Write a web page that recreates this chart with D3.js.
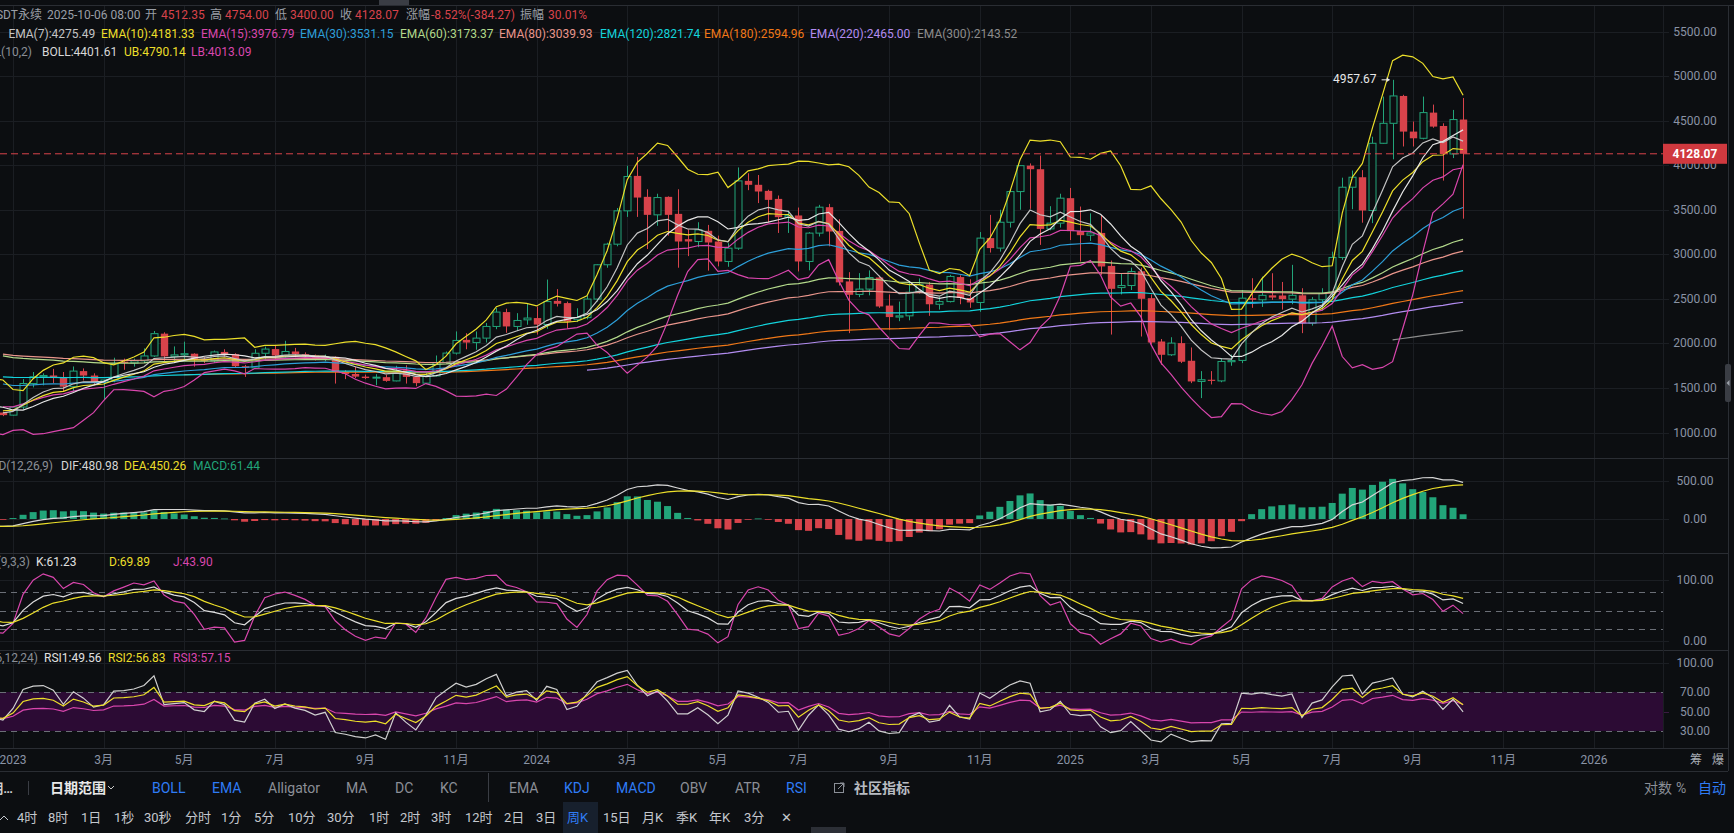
<!DOCTYPE html>
<html><head><meta charset="utf-8">
<script src="https://cdn.jsdelivr.net/npm/d3@7"></script>
<style>
html,body{margin:0;padding:0;background:#0c0e11;overflow:hidden}
svg{display:block;font-family:Roboto,"Noto Sans CJK SC",sans-serif}
</style></head><body>
<svg id="c" width="1734" height="833"></svg>
<script>
// ---------------- DATA (weekly bars, first bar = week of 2022-09-26) ----------------
const firstWeek = "2022-09-26";
const opens = [1295,1310,1295,1305,1365,1590,1570,1220,1140,1195,1280,1265,1167,1225,
1196,1287,1551,1627,1641,1612,1515,1690,1640,1565,1590,1796,1781,1805,1860,2110,1855,1872,1885,1820,1805,1905,1880,1745,1725,1890,1937,1865,1910,1880,1865,1835,1850,1680,1658,1628,1612,1622,1580,1700,1625,1555,1636,1787,1892,2041,2010,2060,2191,2352,2191,2265,
2285,2212,2478,2453,2266,2290,2498,2883,3114,3488,3880,3645,3443,3645,3454,3170,3144,3264,3144,2920,3069,3824,3780,3712,3622,3417,3436,2920,3238,3529,3263,2696,2550,2610,2740,2425,2296,2310,2580,2660,2440,2470,2745,2510,2460,3182,3070,3360,3704,3995,3955,3285,3350,
3630,3260,3215,3240,2870,2627,2650,2810,2508,2022,1873,2004,1806,1574,1593,1580,1795,1810,2508,2490,2540,2538,2497,2540,2228,2490,2570,2965,3753,3865,3492,4246,4470,4777,4377,4302,4590,4440,4126,4512.35];
const highs = [1390,1380,1340,1370,1665,1680,1600,1290,1220,1300,1300,1350,1230,1235,
1290,1600,1680,1665,1715,1680,1742,1720,1665,1580,1840,1830,1830,1945,2140,2125,1967,2020,1890,1850,1920,1935,1890,1760,1935,1965,1975,2030,1950,1900,1875,1875,1855,1700,1742,1650,1655,1650,1750,1755,1635,1670,1865,1910,2135,2115,2135,2230,2400,2390,2340,2445,
2415,2717,2610,2470,2395,2535,2890,3130,3520,3994,4093,3730,3680,3650,3730,3280,3360,3330,3210,3125,3975,3910,3890,3725,3660,3490,3525,3250,3555,3566,3394,2800,2789,2820,2760,2550,2470,2700,2730,2690,2520,2770,2765,2720,3250,3443,3500,3730,4000,4020,4108,3540,3680,
3745,3536,3460,3440,2930,2790,2850,2850,2550,2050,2070,2080,1955,1690,1690,1836,1875,2600,2732,2750,2788,2690,2882,2620,2520,2620,3030,3860,3940,3945,4320,4770,4957.67,4790,4490,4770,4680,4470,4620,4754];
const lows = [1265,1270,1190,1255,1335,1505,1075,1125,1075,1160,1220,1155,1150,1185,
1190,1260,1507,1530,1555,1460,1461,1585,1540,1370,1565,1705,1740,1780,1850,1805,1790,1810,1740,1780,1780,1850,1730,1625,1720,1820,1825,1845,1845,1825,1810,1800,1550,1600,1610,1600,1531,1570,1575,1550,1520,1545,1630,1780,1875,1935,1930,2010,2160,2120,2140,2210,
2100,2165,2415,2170,2240,2270,2470,2850,3090,3420,3420,3060,3320,3210,2850,2980,3080,2817,2865,2860,3050,3720,3575,3360,3240,3240,2808,2820,3200,3090,2650,2116,2520,2540,2400,2154,2250,2260,2560,2310,2380,2460,2440,2400,2355,3020,3030,3300,3500,3510,3106,3270,3300,
3160,2920,3150,2770,2100,2550,2600,2078,1990,1760,1860,1780,1555,1387,1540,1565,1750,1780,2400,2410,2490,2380,2440,2116,2200,2370,2508,2938,3506,3355,3350,4240,4066,4210,4210,4290,4420,3827,4080,3400];
const closes = [1310,1295,1305,1365,1590,1570,1220,1140,1195,1280,1265,1167,1219,1196,
1287,1551,1627,1641,1612,1515,1690,1640,1565,1590,1772,1781,1805,1860,2110,1855,1872,1885,1820,1805,1905,1880,1745,1725,1890,1937,1865,1910,1880,1865,1835,1850,1680,1658,1628,1612,1622,1580,1690,1625,1555,1636,1787,1892,2034,2010,2060,2191,2352,2191,2258,2285,
2212,2470,2445,2247,2290,2498,2883,3114,3488,3873,3637,3443,3637,3443,3144,3144,3275,3133,2920,3069,3824,3780,3705,3611,3417,3436,2920,3238,3529,3256,2685,2546,2610,2740,2415,2296,2310,2575,2660,2440,2470,2752,2510,2460,3182,3070,3360,3704,3995,3955,3285,3350,3630,
3260,3215,3240,2864,2613,2650,2807,2501,2011,1873,2004,1795,1574,1593,1580,1798,1808,2508,2490,2540,2515,2497,2540,2228,2490,2560,2965,3753,3865,3492,4246,4470,4777,4377,4302,4590,4433,4126,4512,4128.07];

// EMA settings: period, seed value read at the first drawn bar, first drawn bar (week)
const emaPeriods = [7,10,15,30,60,80,120,180,220,300];
const emaSeeds   = [1222,1245,1290,1545,1860,1880,1625,1650,1700,2040];
const emaStarts  = ["2022-12-26","2022-12-26","2022-12-26","2022-12-26","2022-12-26","2022-12-26","2022-12-26","2023-05-01","2024-02-05","2025-08-18"];
const emaColors  = ["#c4c4c4","#ecdf2a","#d946ad","#2d9fd9","#b3d98b","#e9968c","#13d3dc","#f07818","#b28cf0","#8c8c8c"];
const emaLegend  = ["4275.49","4181.33","3976.79","3531.15","3173.37","3039.93","2821.74","2594.96","2465.00","2143.52"];
// MACD / RSI seeds (state at first bar)
const macdSeeds = [1480,1550,-220];
const rsiPeriods = [6,12,24];
const rsiSeedUp = [30,35,40];
const rsiSeedAbs = [70,80,95];

// axis ticks
const priceTicks = [1000,1500,2000,2500,3000,3500,4000,4500,5000,5500];
const timeTickDates = ["2023-01-02","2023-03-06","2023-05-01","2023-07-03","2023-09-04","2023-11-06","2024-01-01","2024-03-04","2024-05-06","2024-07-01","2024-09-02","2024-11-04","2025-01-06","2025-03-03","2025-05-05","2025-07-07","2025-09-01","2025-11-03","2026-01-05"];
const timeTickLabels = ["2023","3月","5月","7月","9月","11月","2024","3月","5月","7月","9月","11月","2025","3月","5月","7月","9月","11月","2026"];

// ---------------- SETUP ----------------
const W=1734,H=833,AX=1663;
const bg="#0c0e11", gridC="#1b1e23", sepC="#2a2d33", axTxt="#8a93a5";
const upC="#22a57a", dnC="#d8434b";
const YEL="#ecdf2a", MAG="#d946ad", WHT="#dcdcdc";
const svg=d3.select("#c");
svg.append("rect").attr("width",W).attr("height",H).attr("fill",bg);

const parse=d3.utcParse("%Y-%m-%d");
const start=parse(firstWeek);
const n=closes.length;
const dates=d3.range(n).map(k=>d3.utcWeek.offset(start,k));
const idxOf=s=>Math.round((parse(s)-start)/(7*864e5));

const x=d3.scaleUtc().domain([parse("2023-01-02"),parse("2026-01-05")]).range([13,1594]);
const yP=d3.scaleLinear().domain([1000,5500]).range([432.6,31.5]);
const yM=d3.scaleLinear().domain([0,500]).range([519,481]);
const yK=d3.scaleLinear().domain([0,100]).range([641,580]);
const yR=d3.scaleLinear().domain([30,70]).range([731,692]);
const panes={P:[6,458],M:[458,553],K:[553,650],R:[650,748]};

const defs=svg.append("defs");
Object.entries(panes).forEach(([k,[t,b]])=>{
  defs.append("clipPath").attr("id","cp"+k).append("rect").attr("x",0).attr("y",t).attr("width",AX).attr("height",b-t);
});

// ---------------- INDICATORS ----------------
function ema(vals,p,k0,seed){const a=2/(p+1);const o=new Array(vals.length).fill(null);o[k0]=seed;for(let k=k0+1;k<vals.length;k++)o[k]=a*vals[k]+(1-a)*o[k-1];return o;}
const emas=emaPeriods.map((p,j)=>ema(closes,p,idxOf(emaStarts[j]),emaSeeds[j]));
const boll=closes.map((c,k)=>{if(k<9)return null;const w=closes.slice(k-9,k+1);const m=d3.mean(w);const sd=Math.sqrt(d3.mean(w,v=>(v-m)*(v-m)));return {m,u:m+2*sd,l:m-2*sd};});
const e12=ema(closes,12,0,macdSeeds[0]), e26=ema(closes,26,0,macdSeeds[1]);
const dif=closes.map((c,k)=>e12[k]-e26[k]);
const dea=ema(dif,9,0,macdSeeds[2]);
const hist=dif.map((d,k)=>2*(d-dea[k]));
const kdj=[];{let K=50,D=50;for(let k=0;k<n;k++){if(k<8){kdj.push(null);continue;}const hh=d3.max(highs.slice(k-8,k+1)),ll=d3.min(lows.slice(k-8,k+1));const rsv=(closes[k]-ll)/(hh-ll)*100;K=(2*K+rsv)/3;D=(2*D+K)/3;kdj.push({K,D,J:3*K-2*D});}}
const rsis=rsiPeriods.map((p,j)=>{let u=rsiSeedUp[j],a=rsiSeedAbs[j];const o=[null];for(let k=1;k<n;k++){const d=closes[k]-closes[k-1];u=(Math.max(d,0)+(p-1)*u)/p;a=(Math.abs(d)+(p-1)*a)/p;o.push(u/a*100);}return o;});

// ---------------- GRID ----------------
const grid=svg.append("g");
timeTickDates.forEach(s=>{const xx=Math.round(x(parse(s)))+0.5;grid.append("line").attr("x1",xx).attr("x2",xx).attr("y1",6).attr("y2",748).attr("stroke",gridC);});
priceTicks.forEach(v=>{const yy=Math.round(yP(v))+0.5;grid.append("line").attr("x1",0).attr("x2",AX+6).attr("y1",yy).attr("y2",yy).attr("stroke",gridC);});
[0,500].forEach(v=>{const yy=Math.round(yM(v))+0.5;grid.append("line").attr("x1",0).attr("x2",AX+6).attr("y1",yy).attr("y2",yy).attr("stroke",gridC);});
[0,100].forEach(v=>{const yy=Math.round(yK(v))+0.5;grid.append("line").attr("x1",0).attr("x2",AX+6).attr("y1",yy).attr("y2",yy).attr("stroke",gridC);});
// RSI band
svg.append("rect").attr("x",0).attr("width",AX).attr("y",yR(70)).attr("height",yR(30)-yR(70)).attr("fill","#2c0b34");
[100,50].forEach(v=>{const yy=Math.round(yR(v))+0.5;grid.append("line").attr("x1",0).attr("x2",AX+6).attr("y1",yy).attr("y2",yy).attr("stroke",v==50?"#3a1a42":gridC);});
// dashed levels
[80,50,20].forEach(v=>svg.append("line").attr("x1",0).attr("x2",AX).attr("y1",Math.round(yK(v))+0.5).attr("y2",Math.round(yK(v))+0.5).attr("stroke","#6b6f77").attr("stroke-dasharray","6,5"));
[70,30].forEach(v=>svg.append("line").attr("x1",0).attr("x2",AX).attr("y1",Math.round(yR(v))+0.5).attr("y2",Math.round(yR(v))+0.5).attr("stroke","#6b6f77").attr("stroke-dasharray","6,5"));
// separators
[458,553,650,748,771].forEach(yy=>svg.append("line").attr("x1",0).attr("x2",1728).attr("y1",yy+0.5).attr("y2",yy+0.5).attr("stroke",sepC));
svg.append("line").attr("x1",0).attr("x2",W).attr("y1",5.5).attr("y2",5.5).attr("stroke",sepC);
svg.append("line").attr("x1",AX+0.5).attr("x2",AX+0.5).attr("y1",6).attr("y2",748).attr("stroke",gridC);
svg.append("line").attr("x1",1728.5).attr("x2",1728.5).attr("y1",6).attr("y2",771).attr("stroke",sepC);

// ---------------- CANDLES ----------------
const gc=svg.append("g").attr("clip-path","url(#cpP)");
const vis=d3.range(12,n);
vis.forEach(k=>{
  const o=opens[k],h=highs[k],l=lows[k],c=closes[k];
  const cx=Math.round(x(dates[k]))+0.5;
  const top=yP(Math.max(o,c)),bot=yP(Math.min(o,c));
  if(c>=o){
    gc.append("line").attr("x1",cx).attr("x2",cx).attr("y1",yP(h)).attr("y2",top).attr("stroke",upC);
    gc.append("line").attr("x1",cx).attr("x2",cx).attr("y1",bot).attr("y2",yP(l)).attr("stroke",upC);
    gc.append("rect").attr("x",cx-3.5).attr("y",top).attr("width",7).attr("height",Math.max(1,bot-top)).attr("fill",bg).attr("stroke",upC);
  }else{
    gc.append("line").attr("x1",cx).attr("x2",cx).attr("y1",yP(h)).attr("y2",yP(l)).attr("stroke",dnC);
    gc.append("rect").attr("x",cx-3.7).attr("y",top).attr("width",7.4).attr("height",Math.max(1,bot-top)).attr("fill",dnC);
  }
});

function drawLine(g,arr,acc,ys,color,from){
  const idx=d3.range(from,n).filter(k=>arr[k]!=null);
  g.append("path").attr("d",d3.line().x(k=>x(dates[k])).y(k=>ys(acc(arr[k])))(idx)).attr("fill","none").attr("stroke",color).attr("stroke-width",1.2);
}
const gl=svg.append("g").attr("clip-path","url(#cpP)");
for(let j=emaPeriods.length-1;j>=0;j--) drawLine(gl,emas[j],v=>v,yP,emaColors[j],idxOf(emaStarts[j]));
drawLine(gl,boll,d=>d.u,yP,YEL,12);
drawLine(gl,boll,d=>d.l,yP,MAG,12);
drawLine(gl,boll,d=>d.m,yP,"#e6e6e6",12);

// current price line
const lastC=closes[n-1];
svg.append("line").attr("x1",0).attr("x2",AX).attr("y1",yP(lastC)).attr("y2",yP(lastC)).attr("stroke","#d8434b").attr("stroke-dasharray","7,4");
svg.append("line").attr("x1",AX).attr("x2",AX+6).attr("y1",yP(lastC)).attr("y2",yP(lastC)).attr("stroke","#fff");
// max marker
const kMax=d3.maxIndex(highs.slice(13))+13;
const mx=x(dates[kMax]), my=yP(highs[kMax]);
svg.append("text").attr("x",mx-16).attr("y",my-1).attr("text-anchor","end").attr("dominant-baseline","central").attr("fill","#e8e8e8").attr("font-size",12).text(highs[kMax].toFixed(2));
svg.append("line").attr("x1",mx-11).attr("x2",mx-3).attr("y1",my).attr("y2",my).attr("stroke","#e8e8e8");
svg.append("path").attr("d",`M${mx-3},${my} l-3,-2.5 l0,5 z`).attr("fill","#e8e8e8");

// ---------------- MACD ----------------
const gm=svg.append("g").attr("clip-path","url(#cpM)");
vis.forEach(k=>{const v=hist[k];const cx=x(dates[k]);const y0=yM(0),y1=yM(v);
  gm.append("rect").attr("x",cx-3.5).attr("width",7).attr("y",Math.min(y0,y1)).attr("height",Math.max(0.8,Math.abs(y1-y0))).attr("fill",v>=0?upC:dnC);});
drawLine(gm,dif,v=>v,yM,"#d6d6d6",12);
drawLine(gm,dea,v=>v,yM,YEL,12);

// ---------------- KDJ ----------------
const gk=svg.append("g").attr("clip-path","url(#cpK)");
drawLine(gk,kdj,d=>d.J,yK,MAG,12);
drawLine(gk,kdj,d=>d.K,yK,WHT,12);
drawLine(gk,kdj,d=>d.D,yK,YEL,12);

// ---------------- RSI ----------------
const gr=svg.append("g").attr("clip-path","url(#cpR)");
drawLine(gr,rsis[2],v=>v,yR,MAG,12);
drawLine(gr,rsis[0],v=>v,yR,"#d0d0d0",12);
drawLine(gr,rsis[1],v=>v,yR,YEL,12);

// ---------------- AXES TEXT ----------------
const T=(xx,yy,s,col,size=12,anchor="start",weight=400)=>svg.append("text").attr("x",xx).attr("y",yy).attr("fill",col).attr("font-size",size).attr("text-anchor",anchor).attr("font-weight",weight).attr("dominant-baseline","central").text(s);
priceTicks.forEach(v=>T(1695,yP(v),v.toFixed(2),axTxt,12,"middle"));
[0,500].forEach(v=>T(1695,yM(v),v.toFixed(2),axTxt,12,"middle"));
[0,100].forEach(v=>T(1695,yK(v),v.toFixed(2),axTxt,12,"middle"));
[100,70,50,30].forEach(v=>T(1695,yR(v),v.toFixed(2),axTxt,12,"middle"));
svg.append("rect").attr("x",AX).attr("y",yP(lastC)-10).attr("width",64).attr("height",20).attr("fill","#d0393f");
T(1695,yP(lastC),lastC.toFixed(2),"#ffffff",12,"middle",700);
timeTickDates.forEach((s,j)=>T(x(parse(s)),760,timeTickLabels[j],axTxt,12,"middle"));
T(1690,760,"筹","#a8adb5",12,"start");
T(1712,760,"爆","#a8adb5",12,"start");

// ---------------- LEGENDS ----------------
const red="#d8434b", gr2="#9a9ea6";
T(42,14.5,"ETHUSDT永续",gr2,12,"end");
T(47,14.5,"2025-10-06 08:00",gr2);
[["开",145,gr2],[opens[n-1].toFixed(2),161,red],["高",210,gr2],[highs[n-1].toFixed(2),225,red],["低",275,gr2],[lows[n-1].toFixed(2),290,red],["收",340,gr2],[closes[n-1].toFixed(2),355,red],["涨幅",406,gr2],["-8.52%(-384.27)",431,red],["振幅",520,gr2],["30.01%",548,red]].forEach(([s,xx,c])=>T(xx,14.5,s,c));
const emaX=[8.4,101,201,300,400,499,600,704,810,917];
emaPeriods.forEach((p,j)=>T(emaX[j],34,`EMA(${p}):${emaLegend[j]}`,emaColors[j]));
T(32,52,"BOLL(10,2)","#8a8e96",12,"end");
T(42,52,"BOLL:4401.61","#d8d8d8");
T(124,52,"UB:4790.14",YEL);
T(191,52,"LB:4013.09",MAG);
T(53,466,"MACD(12,26,9)","#8a8e96",12,"end");
T(61,466,"DIF:480.98","#d6d6d6");
T(124,466,"DEA:450.26",YEL);
T(193,466,"MACD:61.44",upC);
T(30,562,"KDJ(9,3,3)","#8a8e96",12,"end");
T(36,562,"K:61.23","#e0e0e0");
T(109,562,"D:69.89",YEL);
T(173,562,"J:43.90",MAG);
T(38,658,"RSI(6,12,24)","#8a8e96",12,"end");
T(44,658,"RSI1:49.56","#e0e0e0");
T(108,658,"RSI2:56.83",YEL);
T(173,658,"RSI3:57.15",MAG);

// ---------------- TOOLBAR ----------------
const blue="#2f7cf6", tg="#8b8f97";
svg.append("rect").attr("x",379).attr("y",0).attr("width",30).attr("height",5).attr("fill","#3a3d44");
T(13,788,"周期…","#d0d0d0",13,"end",700);
svg.append("line").attr("x1",28.5).attr("x2",28.5).attr("y1",781).attr("y2",795).attr("stroke","#3a3d44");
T(50,788,"日期范围","#e8e8e8",14,"start",700);
svg.append("path").attr("d","M108,786 l3,3 l3,-3").attr("fill","none").attr("stroke","#c8c8c8");
[["BOLL",152,blue],["EMA",212,blue],["Alligator",268,tg],["MA",346,tg],["DC",395,tg],["KC",440,tg],["EMA",509,tg],["KDJ",564,blue],["MACD",616,blue],["OBV",680,tg],["ATR",735,tg],["RSI",786,blue]].forEach(([s,xx,c])=>T(xx,788,s,c,14));
svg.append("line").attr("x1",488.5).attr("x2",488.5).attr("y1",773).attr("y2",802).attr("stroke","#3a3d44");
svg.append("rect").attr("x",834.5).attr("y",783.5).attr("width",9).attr("height",9).attr("fill","none").attr("stroke",tg);
svg.append("path").attr("d","M838,789 l6,-6 M840,783 h4 v4").attr("fill","none").attr("stroke",tg);
T(854,788,"社区指标","#b8bcc2",14,"start",700);
T(1644,788,"对数",tg,14);
T(1676,788,"%",tg,14);
T(1698,788,"自动",blue,14);
svg.append("rect").attr("x",563).attr("y",802).attr("width",35).attr("height",31).attr("fill","#17202d");
[["4时",17],["8时",48],["1日",81],["1秒",114],["30秒",144],["分时",185],["1分",221],["5分",254],["10分",288],["30分",327],["1时",369],["2时",400],["3时",431],["12时",465],["2日",504],["3日",536],["周K",567],["15日",603],["月K",642],["季K",676],["年K",709],["3分",744],["✕",781]].forEach(([s,xx])=>T(xx,817,s,s=="周K"?blue:"#c4c8ce",13));
svg.append("path").attr("d","M0,820 l4,-4 l4,4").attr("fill","none").attr("stroke","#c4c8ce");
svg.append("rect").attr("x",811).attr("y",827).attr("width",35).attr("height",6).attr("fill","#2c2f36");
svg.append("rect").attr("x",1725).attr("y",364).attr("width",6).attr("height",38).attr("rx",2).attr("fill","#3a3d44");
svg.append("path").attr("d","M1726.5,383 l3,-3 v6 z").attr("fill","#9aa0a8");
</script></body></html>
